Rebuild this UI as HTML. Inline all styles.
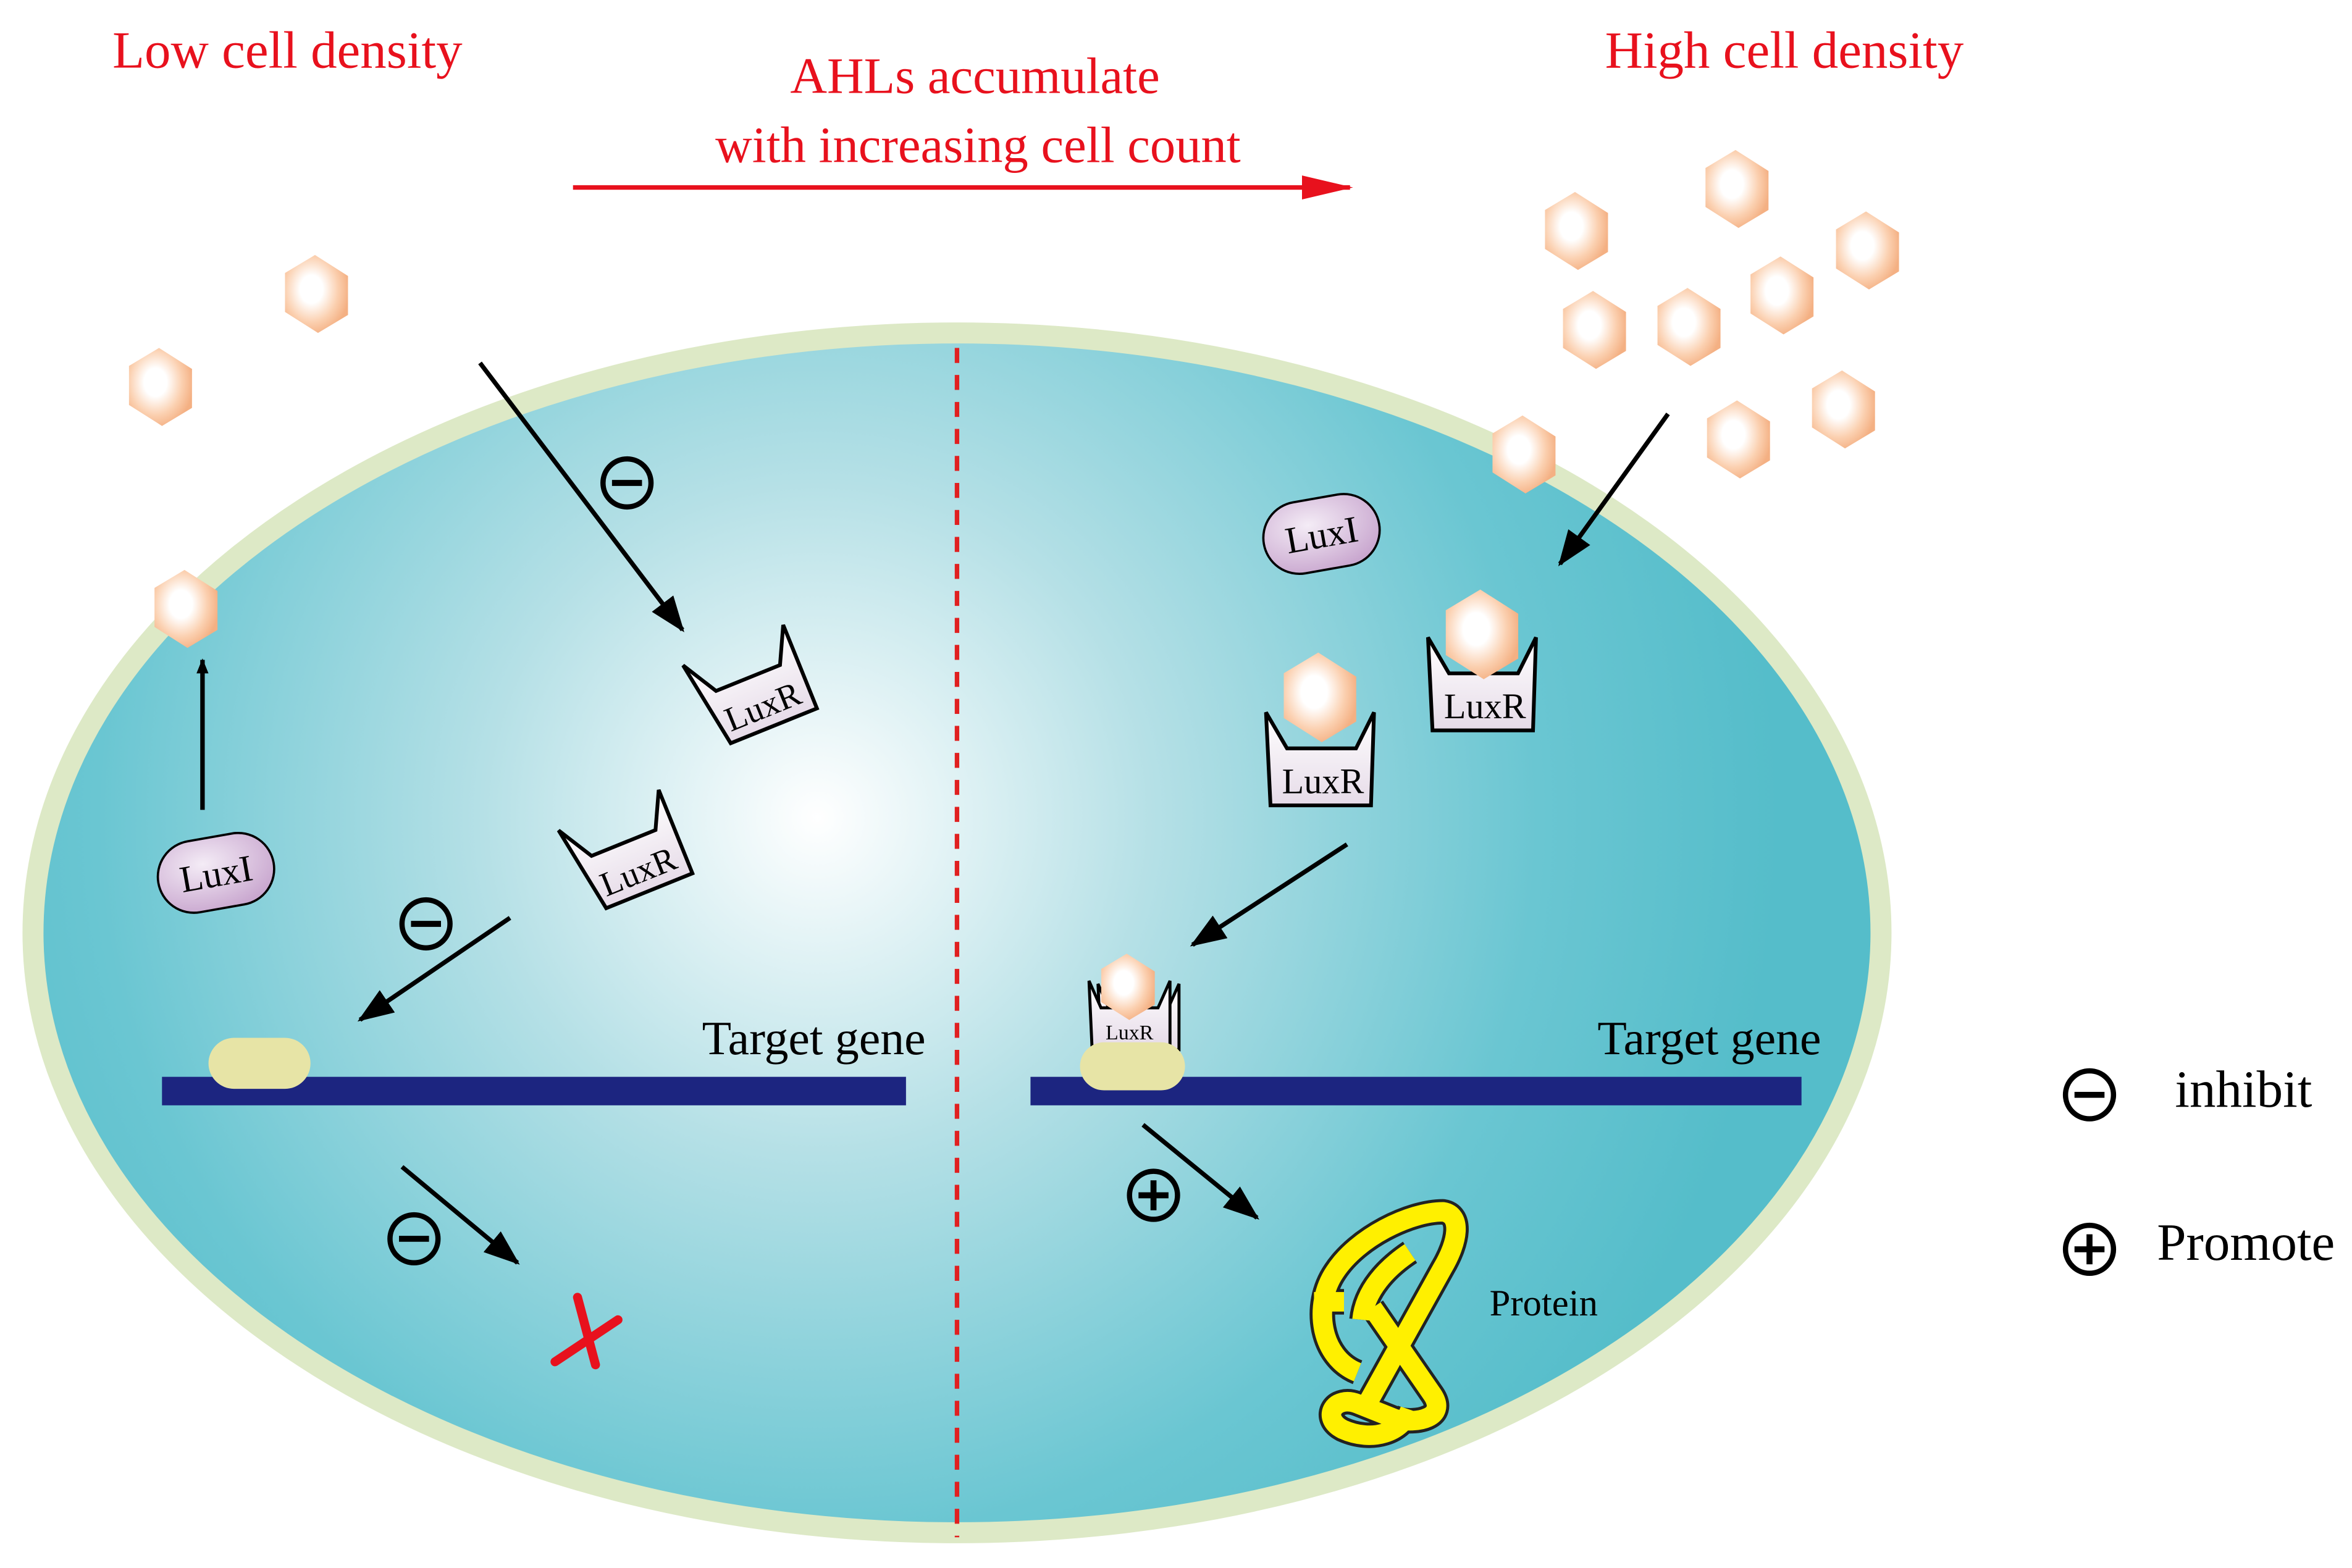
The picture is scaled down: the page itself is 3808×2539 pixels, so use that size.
<!DOCTYPE html>
<html><head><meta charset="utf-8"><style>html,body{margin:0;padding:0;background:#fff}svg{display:block}</style></head>
<body>
<svg width="3808" height="2539" viewBox="0 0 1568 1045.5" preserveAspectRatio="none" xmlns="http://www.w3.org/2000/svg" font-family="'Liberation Serif', serif">
<defs>
<radialGradient id="cell" cx="545" cy="545" r="640" gradientUnits="userSpaceOnUse">
<stop offset="0" stop-color="#ffffff"/><stop offset="0.35" stop-color="#b5e0e6"/><stop offset="0.75" stop-color="#6ac6d2"/><stop offset="1" stop-color="#55bdca"/>
</radialGradient>
<radialGradient id="hex" cx="0.42" cy="0.44" r="0.6">
<stop offset="0" stop-color="#ffffff"/><stop offset="0.3" stop-color="#ffffff"/><stop offset="0.7" stop-color="#fbd0b0"/><stop offset="1" stop-color="#f4b083"/>
</radialGradient>
<linearGradient id="cup" x1="0" y1="0" x2="0" y2="1"><stop offset="0" stop-color="#ffffff"/><stop offset="1" stop-color="#e6dbe8"/></linearGradient>
<radialGradient id="pill" cx="0.4" cy="0.35" r="0.7"><stop offset="0" stop-color="#f4ecf6"/><stop offset="1" stop-color="#c9a7cf"/></radialGradient>
<marker id="ah" markerWidth="10" markerHeight="8" refX="9" refY="4" orient="auto" markerUnits="userSpaceOnUse" viewBox="0 0 10 8"><path d="M0,0L10,4L0,8z" fill="#000"/></marker>
<marker id="ahb" markerWidth="24" markerHeight="18" refX="22" refY="9" orient="auto" markerUnits="userSpaceOnUse"><path d="M0,0L24,9L0,18z" fill="#000"/></marker>
<marker id="ahr" markerWidth="34" markerHeight="16" refX="32" refY="8" orient="auto" markerUnits="userSpaceOnUse"><path d="M0,0L34,8L0,16z" fill="#e8111d"/></marker>
<g id="h"><polygon points="-1,-26 21,-12 21,14 1,26 -21,12 -21,-14" fill="url(#hex)"/></g>
<g id="mn"><circle r="16" fill="none" stroke="#000" stroke-width="3.5"/><line x1="-10" y1="0" x2="10" y2="0" stroke="#000" stroke-width="4"/></g>
<g id="pl"><circle r="16" fill="none" stroke="#000" stroke-width="3.5"/><line x1="-10" y1="0" x2="10" y2="0" stroke="#000" stroke-width="4"/><line x1="0" y1="-10" x2="0" y2="10" stroke="#000" stroke-width="4"/></g>
<g id="cupE"><path d="M-36,-30 L-26,30 L36,30 L36,-30 L24,-6 L-22,-6 Z" fill="url(#cup)" stroke="#000" stroke-width="2.5"/></g>
<g id="luxI"><rect x="-39" y="-24" width="78" height="48" rx="24" fill="url(#pill)" stroke="#000" stroke-width="1.5"/></g>
</defs>

<ellipse cx="638" cy="622" rx="616" ry="400" fill="url(#cell)" stroke="#dde9c6" stroke-width="14"/>
<line x1="638" y1="232" x2="638" y2="1025" stroke="#e02020" stroke-width="3" stroke-dasharray="10,8"/>

<text x="75" y="45" font-size="35" fill="#e8111d">Low cell density</text>
<text x="650" y="62" font-size="34" fill="#e8111d" text-anchor="middle">AHLs accumulate</text>
<text x="652" y="108" font-size="34" fill="#e8111d" text-anchor="middle">with increasing cell count</text>
<line x1="382" y1="125" x2="900" y2="125" stroke="#e8111d" stroke-width="3" marker-end="url(#ahr)"/>
<text x="1070" y="45" font-size="35" fill="#e8111d">High cell density</text>

<use href="#h" x="211" y="196"/><use href="#h" x="107" y="258"/><use href="#h" x="124" y="406"/>
<use href="#h" x="1158" y="126"/><use href="#h" x="1051" y="154"/><use href="#h" x="1245" y="167"/><use href="#h" x="1188" y="197"/>
<use href="#h" x="1063" y="220"/><use href="#h" x="1126" y="218"/><use href="#h" x="1229" y="273"/><use href="#h" x="1159" y="293"/><use href="#h" x="1016" y="303"/>

<line x1="320" y1="242" x2="455" y2="420" stroke="#000" stroke-width="3" marker-end="url(#ahb)"/>
<use href="#mn" x="418" y="322"/>
<line x1="135" y1="540" x2="135" y2="440" stroke="#000" stroke-width="3" marker-end="url(#ah)"/>
<line x1="340" y1="612" x2="240" y2="680" stroke="#000" stroke-width="3" marker-end="url(#ahb)"/>
<use href="#mn" x="284" y="616"/>
<line x1="268" y1="778" x2="345" y2="842" stroke="#000" stroke-width="3" marker-end="url(#ahb)"/>
<use href="#mn" x="276" y="826"/>
<g stroke="#e8111d" stroke-width="6" stroke-linecap="round"><line x1="370" y1="908" x2="412" y2="880"/><line x1="385" y1="865" x2="397" y2="910"/></g>

<g transform="translate(144,582) rotate(-10)"><use href="#luxI"/><text x="0" y="9" font-size="25" text-anchor="middle">LuxI</text></g>
<g transform="translate(500,458) rotate(-22)"><use href="#cupE"/><text x="3" y="23" font-size="23" text-anchor="middle">LuxR</text></g>
<g transform="translate(417,568) rotate(-22)"><use href="#cupE"/><text x="3" y="23" font-size="23" text-anchor="middle">LuxR</text></g>

<rect x="108" y="718" width="496" height="19" fill="#1c2580"/>
<rect x="139" y="692" width="68" height="34" rx="17" fill="#e7e4a6"/>
<text x="468" y="703" font-size="32">Target gene</text>

<line x1="1112" y1="276" x2="1040" y2="376" stroke="#000" stroke-width="3" marker-end="url(#ahb)"/>
<g transform="translate(881,356) rotate(-10)"><use href="#luxI"/><text x="0" y="9" font-size="25" text-anchor="middle">LuxI</text></g>
<g transform="translate(988,455)"><path d="M-36,-30 L-33,32 L34,32 L36,-30 L24,-6 L-22,-6 Z" fill="url(#cup)" stroke="#000" stroke-width="2.5"/><use href="#h" transform="translate(0,-32) scale(1.15)"/><text x="2" y="24" font-size="24" text-anchor="middle">LuxR</text></g>
<g transform="translate(880,505)"><path d="M-36,-30 L-33,32 L34,32 L36,-30 L24,-6 L-22,-6 Z" fill="url(#cup)" stroke="#000" stroke-width="2.5"/><use href="#h" transform="translate(0,-40) scale(1.15)"/><text x="2" y="24" font-size="24" text-anchor="middle">LuxR</text></g>
<line x1="898" y1="563" x2="795" y2="630" stroke="#000" stroke-width="3" marker-end="url(#ahb)"/>

<rect x="687" y="718" width="514" height="19" fill="#1c2580"/>
<g transform="translate(758,680)"><path d="M-26,-24 L-24,20 L28,20 L28,-24 L20,-6 L-18,-6 Z" fill="url(#cup)" stroke="#000" stroke-width="2"/><path d="M-32,-26 L-30,18 L22,18 L22,-26 L14,-8 L-24,-8 Z" fill="url(#cup)" stroke="#000" stroke-width="2"/><use href="#h" transform="translate(-6,-22) scale(0.85)"/><text x="-5" y="13" font-size="14" text-anchor="middle">LuxR</text></g>
<rect x="720" y="695" width="70" height="32" rx="16" fill="#e7e4a6"/>
<text x="1065" y="703" font-size="32">Target gene</text>
<line x1="762" y1="750" x2="838" y2="812" stroke="#000" stroke-width="3" marker-end="url(#ahb)"/>
<use href="#pl" x="769" y="797"/>

<g fill="none" stroke-linejoin="round">
<g stroke="#222" stroke-width="17">
<path d="M876,868 L896,868"/>
<path d="M915,872 L955,930 C965,945 945,950 930,946 L905,936 C890,930 880,945 895,953 C915,962 935,955 940,940"/>
<path d="M905,915 C880,905 875,870 890,848 C905,825 940,808 962,808 C975,810 972,828 962,845 L912,935"/>
<path d="M940,835 C925,845 910,860 908,880"/>
</g>
<g stroke="#fff000" stroke-width="13">
<path d="M876,868 L896,868"/>
<path d="M915,872 L955,930 C965,945 945,950 930,946 L905,936 C890,930 880,945 895,953 C915,962 935,955 940,940"/>
<path d="M905,915 C880,905 875,870 890,848 C905,825 940,808 962,808 C975,810 972,828 962,845 L912,935"/>
<path d="M940,835 C925,845 910,860 908,880"/>
</g>
</g>
<text x="993" y="877" font-size="25">Protein</text>

<use href="#mn" x="1393" y="730"/><text x="1450" y="738" font-size="35">inhibit</text>
<use href="#pl" x="1393" y="833"/><text x="1438" y="840" font-size="35">Promote</text>
</svg>
</body></html>
